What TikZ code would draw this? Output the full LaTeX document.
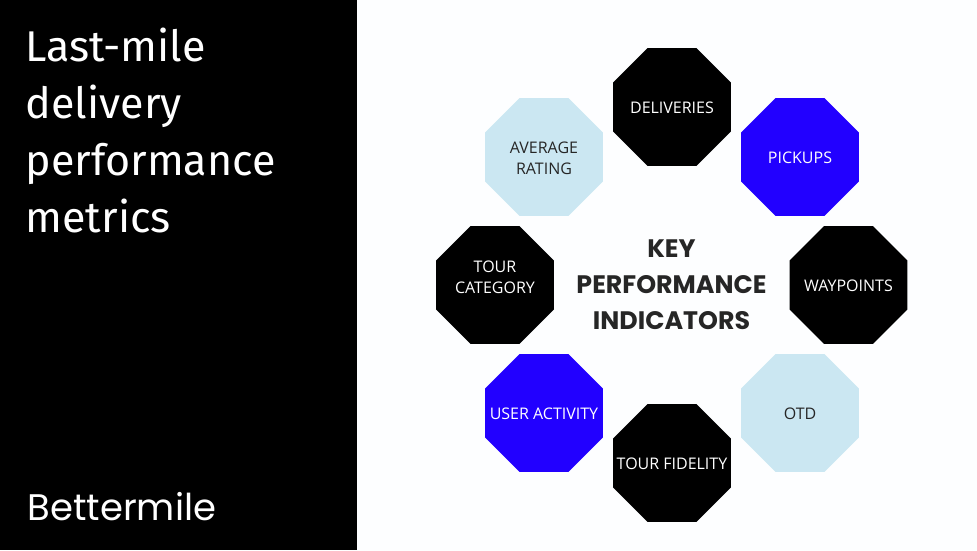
\documentclass[tikz,border=0pt]{standalone}
\usepackage{fontspec}
\setmainfont{Open Sans}
\newfontfamily\titlefont{Fira Sans}
\newfontfamily\keyfont{Poppins}
\usetikzlibrary{shapes.geometric}
\definecolor{bmblue}{HTML}{2200FF}
\definecolor{bmlight}{HTML}{CBE7F2}
\definecolor{bmink}{HTML}{262626}
\definecolor{bmpaper}{HTML}{FDFEFF}
\tikzset{
  octa/.style={regular polygon,regular polygon sides=8,
    minimum size=127.7pt,inner sep=0pt,outer sep=0pt,fill=black},
  octablue/.style={octa,fill=bmblue},
  octalight/.style={octa,fill=bmlight},
  octatext/.style={inner sep=0pt,align=center,text=white,yshift=-1pt,font=\fontsize{16}{21}\selectfont},
  octadark/.style={octatext,text=bmink},
  titleline/.style={anchor=base west,inner sep=0pt,text=white,font=\titlefont\fontsize{43}{43}\selectfont},
  keytext/.style={align=center,inner sep=0pt,text=bmink,font=\keyfont\bfseries\fontsize{25.3}{36}\selectfont},
  logotext/.style={anchor=base west,inner sep=0pt,text=white,font=\keyfont\fontsize{37}{37}\selectfont}
}
\begin{document}
\begin{tikzpicture}[x=1pt,y=-1pt]
\useasboundingbox (0,0) rectangle (977,550);
\fill[bmpaper] (0,0) rectangle (977,550);
\fill[black] (0,0) rectangle (357,550);
\node[titleline] (t1) at (25.5,61) {Last-mile};
\node[titleline] (t2) at (25.5,118) {delivery};
\node[titleline] (t3) at (25.5,175) {performance};
\node[titleline] (t4) at (25.5,232) {metrics};
\node[logotext] (logo) at (27.5,520) {Bettermile};
\node[octa] (deliveries) at (672,107) {};
\node[octablue] (pickups) at (800,157) {};
\node[octa] (waypoints) at (848.5,285) {};
\node[octalight] (otd) at (800,413) {};
\node[octa] (fidelity) at (672,463) {};
\node[octablue] (activity) at (544,413) {};
\node[octa] (category) at (495,285) {};
\node[octalight] (rating) at (544,157) {};
\node[octatext] (ldeliveries) at (deliveries) {DELIVERIES};
\node[octatext] (lpickups) at (pickups) {PICKUPS};
\node[octatext] (lwaypoints) at (waypoints) {WAYPOINTS};
\node[octadark] (lotd) at (otd) {OTD};
\node[octatext] (lfidelity) at (fidelity) {TOUR FIDELITY};
\node[octatext] (lactivity) at (activity) {USER ACTIVITY};
\node[octatext] (lcategory) at (495,276.5) {TOUR\\CATEGORY};
\node[octadark] (lrating) at (rating) {AVERAGE\\RATING};
\node[keytext] (key) at (671.5,285) {KEY\\PERFORMANCE\\INDICATORS};
\end{tikzpicture}
\end{document}
